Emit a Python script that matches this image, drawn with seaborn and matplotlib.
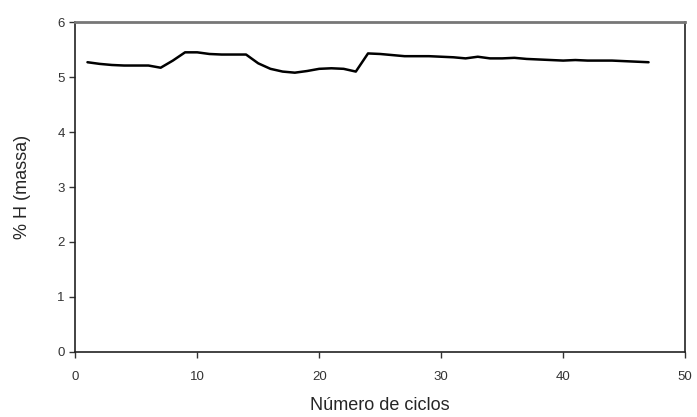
import matplotlib
matplotlib.use("Agg")
import matplotlib.pyplot as plt
import pandas as pd
import seaborn as sns

# ciclos e % H (massa)
ciclos = list(range(1, 48))
hidrogenio = [
    5.27, 5.24, 5.22, 5.21, 5.21, 5.21, 5.17, 5.30, 5.45, 5.45,
    5.42, 5.41, 5.41, 5.41, 5.25, 5.15, 5.10, 5.08, 5.11, 5.15,
    5.16, 5.15, 5.10, 5.43, 5.42, 5.40, 5.38, 5.38, 5.38, 5.37,
    5.36, 5.34, 5.37, 5.34, 5.34, 5.35, 5.33, 5.32, 5.31, 5.30,
    5.31, 5.30, 5.30, 5.30, 5.29, 5.28, 5.27,
]
x_ticks = [0, 10, 20, 30, 40, 50]
y_ticks = [0, 1, 2, 3, 4, 5, 6]

sns.set_style("white")
plt.rcParams["font.family"] = ["Liberation Sans", "DejaVu Sans"]

df = pd.DataFrame({"ciclo": ciclos, "H": hidrogenio})

fig = plt.figure(figsize=(6.97, 4.17), dpi=100)
ax = fig.add_axes([0.108, 0.156, 0.875, 0.791])
sns.lineplot(data=df, x="ciclo", y="H", color="black", linewidth=1.8, ax=ax)

ax.set_xlim(0, 50)
ax.set_ylim(0, 6)
ax.set_xticks(x_ticks)
ax.set_yticks(y_ticks)
ax.set_xlabel("Número de ciclos", fontsize=13, labelpad=10)
ax.set_ylabel("% H (massa)", fontsize=13, labelpad=19)
ax.tick_params(axis="both", direction="out", length=4, width=1, labelsize=9.5,
               colors="#333333", bottom=True, left=True)
ax.tick_params(axis="x", pad=10)
for name, spine in ax.spines.items():
    spine.set_color("#222222")
    spine.set_linewidth(1.2)
ax.spines["top"].set_color("#777777")
ax.spines["top"].set_linewidth(2)

fig.savefig("out.png", dpi=100)
